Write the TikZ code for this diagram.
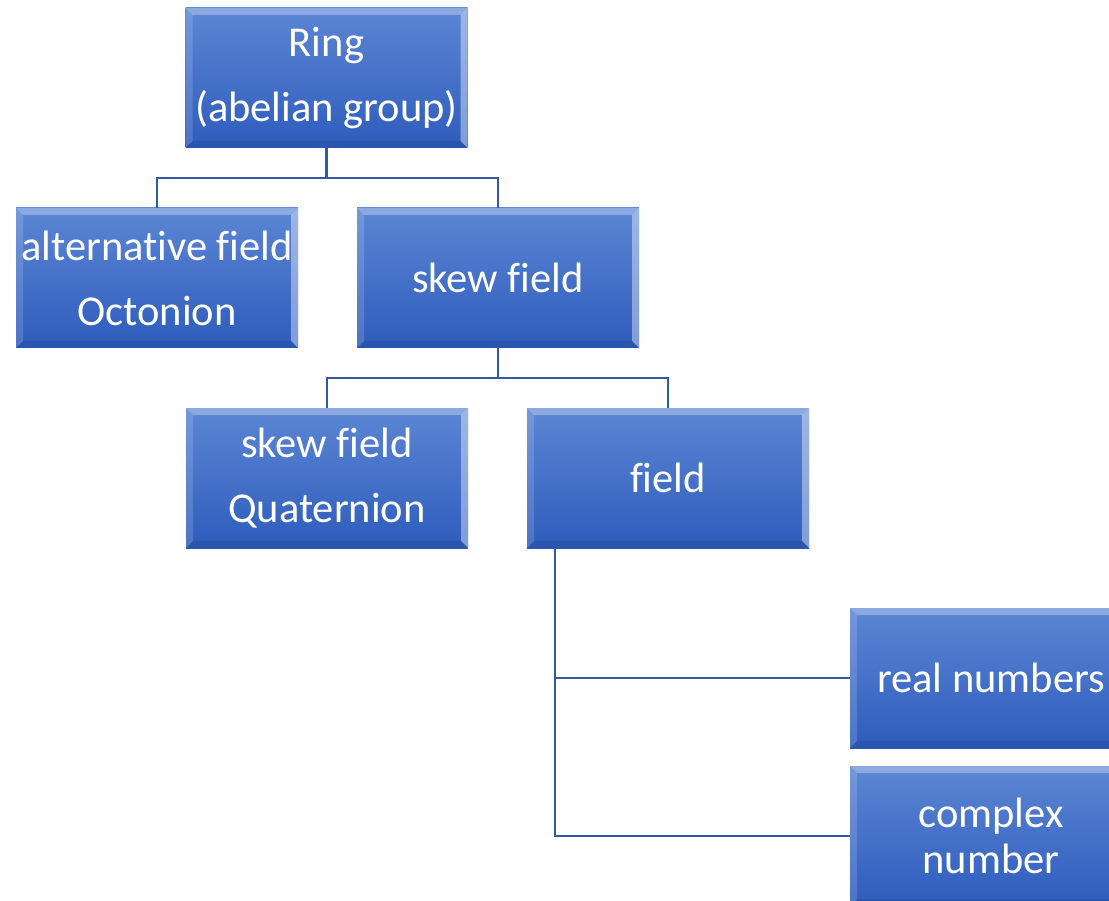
\documentclass[tikz,border=0pt]{standalone}
\usepackage{fontspec}
\setmainfont{Carlito}[Ligatures=NoCommon]
\definecolor{boxtop}{RGB}{92,134,212}
\definecolor{boxbot}{RGB}{46,92,188}
\definecolor{conncol}{RGB}{52,88,168}
\tikzset{
  box/.style={rectangle, minimum width=282pt, minimum height=140pt, inner sep=0pt,
    align=center, text=white, top color=boxtop, bottom color=boxbot,
    font=\fontsize{42.5}{65}\selectfont,
    path picture={
      \fill[white,opacity=0.30] (path picture bounding box.north west) -- (path picture bounding box.north east)
        -- ([xshift=-7pt,yshift=-7pt]path picture bounding box.north east) -- ([xshift=7pt,yshift=-7pt]path picture bounding box.north west) -- cycle;
      \fill[white,opacity=0.15] (path picture bounding box.north west) -- ([xshift=7pt,yshift=-7pt]path picture bounding box.north west)
        -- ([xshift=7pt,yshift=7pt]path picture bounding box.south west) -- (path picture bounding box.south west) -- cycle;
      \fill[white,opacity=0.40] (path picture bounding box.north east) -- ([xshift=-7pt,yshift=-7pt]path picture bounding box.north east)
        -- ([xshift=-7pt,yshift=7pt]path picture bounding box.south east) -- (path picture bounding box.south east) -- cycle;
      \fill[black,opacity=0.08] (path picture bounding box.south west) -- ([xshift=7pt,yshift=7pt]path picture bounding box.south west)
        -- ([xshift=-7pt,yshift=7pt]path picture bounding box.south east) -- (path picture bounding box.south east) -- cycle;
    }},
  conn/.style={draw=conncol, line width=2.2pt}
}
\begin{document}
\begin{tikzpicture}[x=1pt,y=-1pt]
\useasboundingbox (0,0) rectangle (1109,901);
\clip (0,0) rectangle (1109,901);
\node[box] (ring) at (326.5,78) {Ring\\(abelian group)};
\node[box] (alt) at (157,278) {alternative field\\Octonion};
\node[box] (skew) at (498,278) {skew field};
\node[box] (quat) at (327,478) {skew field\\Quaternion};
\node[box] (field) at (668,478) {field};
\node[box] (real) at (991,678) {real numbers};
\node[box, font=\fontsize{42.5}{46}\selectfont] (complex) at (991,836) {complex\\number};
\coordinate (b1) at (326.5,178);
\coordinate (b2) at (498,378);
\coordinate (fl) at (555,548);
\draw[conn] (ring.south) -- (b1);
\draw[conn] (alt.north) |- (b1) -| (skew.north);
\draw[conn] (skew.south) -- (b2);
\draw[conn] (quat.north) |- (b2) -| (field.north);
\draw[conn] (fl) |- (real.west);
\draw[conn] (fl) |- (complex.west);
\end{tikzpicture}
\end{document}
